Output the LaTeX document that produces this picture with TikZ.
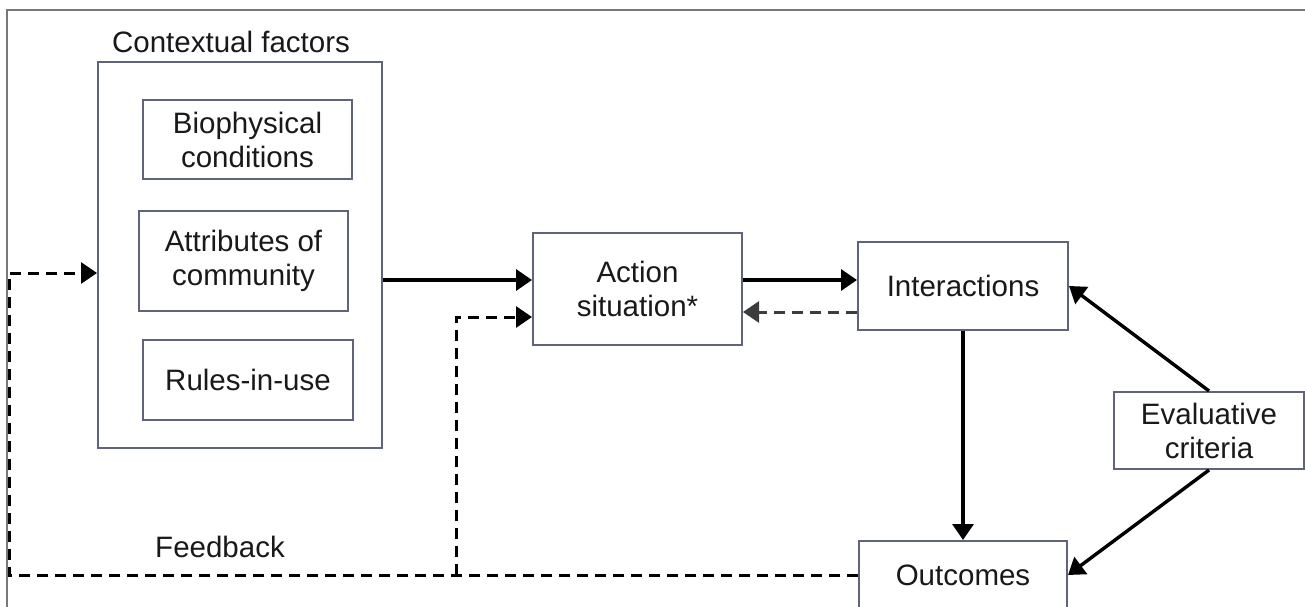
\documentclass[tikz,border=0pt]{standalone}
\usepackage{fontspec}
\setmainfont{Liberation Sans}
\usetikzlibrary{arrows.meta}
\definecolor{boxc}{RGB}{95,100,122}
\definecolor{framec}{RGB}{120,120,120}
\definecolor{txtc}{RGB}{25,25,25}
\definecolor{dgray}{RGB}{60,60,60}
\tikzset{
  txt/.style={text=txtc, font=\fontsize{29.5pt}{34pt}\selectfont, align=center},
  box/.style={txt, draw=boxc, line width=2pt, fill=white, inner sep=0pt},
  lbl/.style={txt, inner sep=0pt},
  arr/.style={line width=3.4pt, -{Triangle[length=16pt,width=21pt]}},
  dsh/.style={line width=3pt, dash pattern=on 11pt off 7pt},
  darr/.style={dsh, -{Triangle[length=16pt,width=21pt]}},
  framel/.style={draw=framec, line width=2pt}
}
\begin{document}
\begin{tikzpicture}[x=1pt,y=-1pt]
\useasboundingbox (0,0) rectangle (1305,607);
\clip (0,0) rectangle (1305,607);
\fill[white] (0,0) rectangle (1305,607);
\draw[framel] (7,607) -- (7,10.5) -- (1305,10.5);

\node[lbl] (ttl) at (231,42) {Contextual factors};
\node[box, minimum width=284pt, minimum height=386pt] (ctx) at (240,255) {};
\node[box, minimum width=209pt, minimum height=79pt] (bio) at (247.5,139.5) {Biophysical\\conditions};
\node[box, minimum width=209pt, minimum height=100pt] (attr) at (243.5,261) {Attributes of\\community};
\node[box, minimum width=210pt, minimum height=80pt] (rules) at (248,380) {Rules-in-use};

\node[box, minimum width=209pt, minimum height=112pt] (act) at (637.5,289) {Action\\situation*};
\node[box, minimum width=210pt, minimum height=88pt] (int) at (963,286) {Interactions};
\node[box, minimum width=190pt, minimum height=77pt] (ev) at (1209,430.5) {Evaluative\\criteria};
\node[box, minimum width=208pt, minimum height=68pt] (out) at (963,575) {Outcomes};
\node[lbl] (fb) at (220,547) {Feedback};

% solid arrows
\coordinate (a1) at ([yshift=9pt]act.west);
\draw[arr] (ctx.east |- a1) -- (a1);
\coordinate (a3) at ([yshift=9pt]act.east);
\draw[arr] (a3) -- (int.west |- a3);
\draw[arr] (int.south) -- (out.north);
\draw[arr] (ev.north) -- (int.east);
\draw[arr] (ev.south) -- (out.east);

% dashed arrows
\coordinate (i1) at ([yshift=-26pt]int.west);
\draw[darr, draw=dgray] (i1) -- (act.east |- i1);
\coordinate (fbL) at (9,575);
\coordinate (c1) at ([yshift=-18pt]ctx.west);
\draw[darr] (out.west) -- (fbL) |- (c1);
\coordinate (fbJ) at (456,575);
\coordinate (a2) at ([yshift=-28pt]act.west);
\draw[darr] (fbJ) |- (a2);
\end{tikzpicture}
\end{document}
